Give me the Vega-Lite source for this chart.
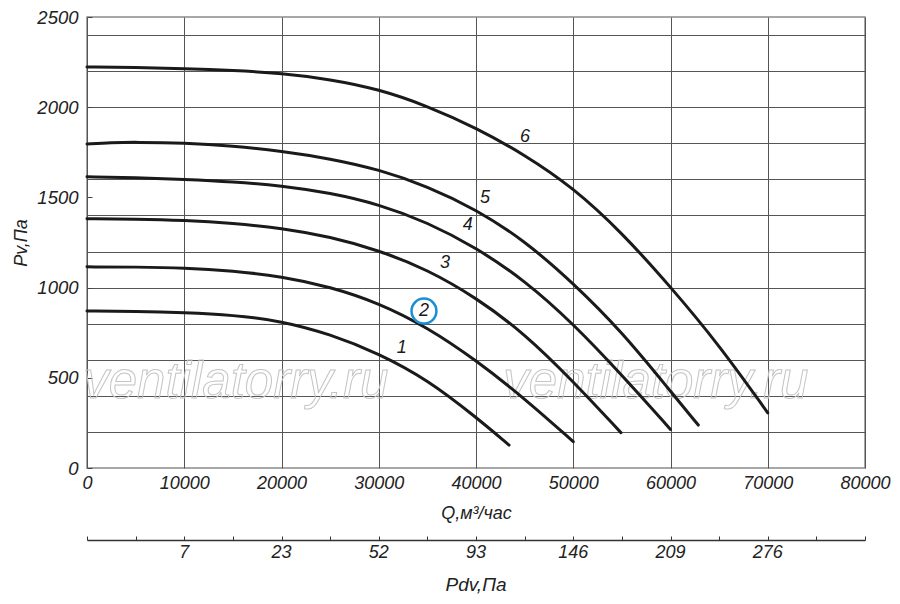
{
  "$schema": "https://vega.github.io/schema/vega-lite/v6.json",
  "padding": {"left": 12, "top": 7, "right": 5, "bottom": 5},
  "background": "white",
  "config": {
    "font": "Liberation Sans",
    "axis": {"labelFont": "Liberation Sans", "titleFont": "Liberation Sans"},
    "title": {"font": "Liberation Sans"}
  },
  "datasets": {
    "curves": [
      {"curve": "1", "q": 0, "p": 870}, {"curve": "1", "q": 5000, "p": 868}, {"curve": "1", "q": 10000, "p": 861},
      {"curve": "1", "q": 15000, "p": 848}, {"curve": "1", "q": 20000, "p": 815}, {"curve": "1", "q": 25000, "p": 742},
      {"curve": "1", "q": 30000, "p": 635}, {"curve": "1", "q": 35000, "p": 490}, {"curve": "1", "q": 40000, "p": 282},
      {"curve": "1", "q": 43400, "p": 127},

      {"curve": "2", "q": 0, "p": 1115}, {"curve": "2", "q": 5000, "p": 1114}, {"curve": "2", "q": 10000, "p": 1110},
      {"curve": "2", "q": 15000, "p": 1093}, {"curve": "2", "q": 20000, "p": 1062}, {"curve": "2", "q": 25000, "p": 1005},
      {"curve": "2", "q": 30000, "p": 915}, {"curve": "2", "q": 35000, "p": 780}, {"curve": "2", "q": 40000, "p": 598},
      {"curve": "2", "q": 45000, "p": 385}, {"curve": "2", "q": 50000, "p": 146},

      {"curve": "3", "q": 0, "p": 1382}, {"curve": "3", "q": 5000, "p": 1380}, {"curve": "3", "q": 10000, "p": 1373},
      {"curve": "3", "q": 15000, "p": 1357}, {"curve": "3", "q": 20000, "p": 1330}, {"curve": "3", "q": 25000, "p": 1282},
      {"curve": "3", "q": 30000, "p": 1207}, {"curve": "3", "q": 35000, "p": 1100}, {"curve": "3", "q": 40000, "p": 945},
      {"curve": "3", "q": 45000, "p": 745}, {"curve": "3", "q": 50000, "p": 480}, {"curve": "3", "q": 54900, "p": 196},

      {"curve": "4", "q": 0, "p": 1614}, {"curve": "4", "q": 5000, "p": 1610}, {"curve": "4", "q": 10000, "p": 1600},
      {"curve": "4", "q": 15000, "p": 1587}, {"curve": "4", "q": 20000, "p": 1565}, {"curve": "4", "q": 25000, "p": 1525},
      {"curve": "4", "q": 30000, "p": 1462}, {"curve": "4", "q": 35000, "p": 1362}, {"curve": "4", "q": 40000, "p": 1222},
      {"curve": "4", "q": 45000, "p": 1040}, {"curve": "4", "q": 50000, "p": 800}, {"curve": "4", "q": 55000, "p": 515},
      {"curve": "4", "q": 60000, "p": 214},

      {"curve": "5", "q": 0, "p": 1796}, {"curve": "5", "q": 2500, "p": 1804}, {"curve": "5", "q": 5000, "p": 1806},
      {"curve": "5", "q": 10000, "p": 1802}, {"curve": "5", "q": 15000, "p": 1785}, {"curve": "5", "q": 20000, "p": 1757},
      {"curve": "5", "q": 25000, "p": 1715}, {"curve": "5", "q": 30000, "p": 1655}, {"curve": "5", "q": 35000, "p": 1562},
      {"curve": "5", "q": 40000, "p": 1434}, {"curve": "5", "q": 45000, "p": 1260}, {"curve": "5", "q": 50000, "p": 1025},
      {"curve": "5", "q": 55000, "p": 755}, {"curve": "5", "q": 60000, "p": 425}, {"curve": "5", "q": 62860, "p": 238},

      {"curve": "6", "q": 0, "p": 2223}, {"curve": "6", "q": 5000, "p": 2220}, {"curve": "6", "q": 10000, "p": 2214},
      {"curve": "6", "q": 15000, "p": 2204}, {"curve": "6", "q": 20000, "p": 2188}, {"curve": "6", "q": 25000, "p": 2155},
      {"curve": "6", "q": 30000, "p": 2100}, {"curve": "6", "q": 35000, "p": 2007}, {"curve": "6", "q": 40000, "p": 1886},
      {"curve": "6", "q": 45000, "p": 1737}, {"curve": "6", "q": 50000, "p": 1554}, {"curve": "6", "q": 55000, "p": 1305},
      {"curve": "6", "q": 60000, "p": 1005}, {"curve": "6", "q": 65000, "p": 682}, {"curve": "6", "q": 70000, "p": 306}
    ],
    "labels": [
      {"label": "1", "q": 32360, "p": 667},
      {"label": "2", "q": 34650, "p": 870},
      {"label": "3", "q": 36810, "p": 1138},
      {"label": "4", "q": 39150, "p": 1345},
      {"label": "5", "q": 40925, "p": 1498},
      {"label": "6", "q": 45040, "p": 1835}
    ],
    "marked": [{"label": "2", "q": 34650, "p": 870}],
    "watermark": [
      {"text": "ventilatorry.ru", "q": 15300, "p": 470},
      {"text": "ventilatorry.ru", "q": 58500, "p": 470}
    ],
    "pdv": [
      {"q": 10000, "pdv": "7"}, {"q": 20000, "pdv": "23"}, {"q": 30000, "pdv": "52"},
      {"q": 40000, "pdv": "93"}, {"q": 50000, "pdv": "146"}, {"q": 60000, "pdv": "209"},
      {"q": 70000, "pdv": "276"}
    ]
  },
  "vconcat": [
    {
      "width": 778,
      "height": 451,
      "view": {"stroke": "#8a8a8a", "strokeWidth": 1.5},
      "encoding": {
        "x": {
          "field": "q",
          "type": "quantitative",
          "scale": {"domain": [0, 80000], "nice": false},
          "axis": {
            "title": "Q,м³/час",
            "format": "d",
            "values": [0, 10000, 20000, 30000, 40000, 50000, 60000, 70000, 80000],
            "grid": true, "gridColor": "#555", "gridWidth": 1,
            "domain": false, "ticks": false,
            "labelFlush": false, "labelFontSize": 18, "labelFontStyle": "italic", "labelColor": "#222",
            "labelPadding": 6,
            "titleFontSize": 18, "titleFontStyle": "italic", "titleFontWeight": "normal", "titleColor": "#222",
            "titlePadding": 12
          }
        },
        "y": {
          "field": "p",
          "type": "quantitative",
          "scale": {"domain": [0, 2500], "nice": false},
          "axis": {
            "title": "Pv,Па",
            "format": "d",
            "values": [0, 200, 400, 500, 600, 800, 1000, 1200, 1400, 1500, 1600, 1800, 2000, 2200, 2400, 2500],
            "grid": true, "gridColor": "#555", "gridWidth": 1,
            "gridOpacity": {"condition": {"test": "datum.value % 200 == 0 && datum.value > 0", "value": 1}, "value": 0},
            "labelExpr": "datum.value % 500 == 0 ? datum.label : ''",
            "domain": false,
            "tickSize": -5, "tickColor": "#444",
            "tickOpacity": {"condition": {"test": "datum.value % 500 == 0", "value": 1}, "value": 0},
            "labelFontSize": 18.5, "labelFontStyle": "italic", "labelColor": "#222", "labelPadding": 14,
            "titleFontSize": 18, "titleFontStyle": "italic", "titleFontWeight": "normal", "titleColor": "#222",
            "titlePadding": 6
          }
        }
      },
      "layer": [
        {
          "data": {"name": "watermark"},
          "mark": {"type": "text", "fontSize": 51, "fontStyle": "italic", "fillOpacity": 0, "stroke": "#c4c4c4", "strokeWidth": 1, "baseline": "middle"},
          "encoding": {"text": {"field": "text"}}
        },
        {
          "data": {"name": "curves"},
          "mark": {"type": "line", "interpolate": "basis", "color": "#1a1a1a", "strokeWidth": 3, "strokeCap": "round"},
          "encoding": {"detail": {"field": "curve"}}
        },
        {
          "data": {"name": "marked"},
          "mark": {"type": "point", "shape": "circle", "filled": false, "size": 620, "stroke": "#1b8fd6", "strokeWidth": 2.5, "opacity": 1}
        },
        {
          "data": {"name": "labels"},
          "mark": {"type": "text", "fontSize": 18, "fontStyle": "italic", "color": "#1a1a1a", "baseline": "middle"},
          "encoding": {"text": {"field": "label"}}
        }
      ]
    },
    {
      "width": 778,
      "height": 26,
      "view": {"stroke": null},
      "data": {"name": "pdv"},
      "title": {"text": "Pdv,Па", "orient": "bottom", "fontSize": 19, "fontStyle": "italic", "fontWeight": "normal", "color": "#222", "offset": 10},
      "mark": {"type": "text", "fontSize": 18, "fontStyle": "italic", "color": "#222", "baseline": "middle"},
      "encoding": {
        "x": {
          "field": "q",
          "type": "quantitative",
          "scale": {"domain": [0, 80000], "nice": false},
          "axis": {
            "orient": "top",
            "title": null,
            "values": [0, 5000, 10000, 15000, 20000, 25000, 30000, 35000, 40000, 45000, 50000, 55000, 60000, 65000, 70000, 75000, 80000],
            "labels": false, "grid": false,
            "domain": true, "domainColor": "#333", "domainWidth": 1.5,
            "ticks": true, "tickSize": 4, "tickColor": "#333"
          }
        },
        "text": {"field": "pdv"}
      }
    }
  ],
  "spacing": 12
}
